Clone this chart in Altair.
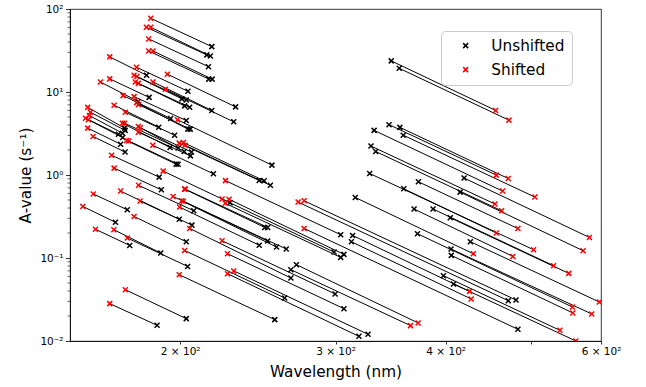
import altair as alt
import pandas as pd

# Unshifted (black) and shifted (red) transitions: wavelength (nm) and A-value (s^-1)
wl_unshifted = [217.2, 214.4, 216.4, 215.3, 215.5, 217.4, 183.2, 204.1, 231.1, 200.9,
                203.2, 184.4, 179.2, 202.3, 205.0, 217.2, 230.0, 195.1, 203.2, 204.1,
                205.3, 189.1, 173.0, 197.1, 173.2, 172.0, 170.2, 172.1, 254.1, 194.8,
                198.9, 202.1, 206.0, 171.2, 205.4, 173.2, 197.9, 198.9, 245.8, 249.0,
                253.1, 218.1, 189.3, 190.4, 227.8, 304.1, 207.2, 199.5, 249.4, 251.3,
                174.2, 251.3, 206.2, 168.9, 298.9, 306.7, 304.1, 257.2, 263.8, 245.8,
                203.2, 175.3, 190.1, 267.0, 203.9, 299.7, 262.7, 306.7, 318.9, 326.6,
                256.0, 203.2, 188.3, 471.0, 480.6, 483.0, 347.0, 354.3, 345.0, 354.9,
                331.8, 358.0, 329.1, 333.2, 328.0, 419.7, 372.5, 358.6, 415.3, 315.9,
                368.3, 387.0, 404.8, 371.6, 426.6, 405.6, 405.9, 313.7, 312.7, 397.6,
                408.3, 270.9, 267.0]
a_unshifted = [35.2, 28.0, 27.2, 20.2, 14.3, 14.3, 15.9, 10.2, 6.62, 8.26,
               8.03, 8.61, 7.70, 6.80, 6.56, 6.00, 4.37, 4.79, 4.53, 3.57,
               3.57, 3.77, 3.67, 3.02, 3.45, 3.19, 3.10, 2.83, 1.315, 2.14,
               2.11, 1.92, 1.89, 2.35, 1.70, 1.89, 1.352, 1.35, 0.859, 0.851,
               0.751, 1.034, 0.943, 0.663, 0.463, 0.1907, 0.371, 0.293, 0.2335, 0.2335,
               0.381, 0.160, 0.249, 0.2696, 0.118, 0.1105, 0.1017, 0.1356, 0.1283, 0.1426,
               0.157, 0.1417, 0.1149, 0.0574, 0.0792, 0.0369, 0.0330, 0.0245, 0.01139, 0.01204,
               0.01809, 0.01860, 0.01545, 0.0306, 0.0312, 0.01382, 23.7, 19.3, 4.04, 3.75,
               3.45, 3.02, 2.23, 1.92, 1.042, 0.918, 0.828, 0.682, 0.622, 0.536,
               0.389, 0.389, 0.3054, 0.196, 0.157, 0.1283, 0.1075, 0.187, 0.157, 0.0612,
               0.0486, 0.0831, 0.0723]
wl_shifted = [185.2, 183.1, 185.2, 184.2, 184.2, 186.3, 166.4, 178.4, 193.4, 177.3,
              178.6, 166.4, 162.4, 177.9, 179.3, 186.3, 192.4, 172.3, 177.3, 178.5,
              179.4, 168.3, 157.1, 173.3, 158.2, 157.8, 156.2, 157.4, 198.6, 172.0,
              173.0, 179.3, 180.2, 157.1, 179.3, 159.3, 173.9, 174.9, 199.5, 201.7,
              202.6, 186.2, 167.2, 168.3, 191.3, 225.1, 179.4, 171.2, 202.3, 202.6,
              159.4, 196.3, 180.1, 155.1, 223.1, 227.2, 225.0, 200.8, 201.6, 199.7,
              177.3, 160.3, 168.2, 205.0, 174.2, 223.1, 202.3, 226.3, 226.3, 230.0,
              199.5, 173.3, 166.4, 272.1, 276.4, 276.4, 455.7, 471.8, 456.5, 471.0,
              464.1, 504.9, 454.9, 462.9, 503.1, 582.1, 483.0, 456.5, 572.6, 429.9,
              476.7, 530.1, 551.6, 556.8, 597.4, 585.6, 557.4, 425.8, 427.5, 538.9,
              561.9, 372.2, 364.9]
a_shifted = [77.3, 60.2, 60.2, 43.6, 31.2, 31.2, 26.5, 19.9, 16.4, 15.9,
             15.4, 14.4, 13.2, 13.2, 12.7, 13.2, 10.8, 9.05, 8.80, 7.45,
             7.05, 6.94, 6.53, 5.71, 5.71, 5.20, 4.84, 4.62, 4.62, 4.21,
             4.21, 3.83, 3.70, 3.67, 3.28, 2.91, 2.60, 2.57, 2.42, 2.46,
             2.28, 2.28, 1.73, 1.21, 1.114, 0.856, 0.751, 0.640, 0.676, 0.676,
             0.591, 0.551, 0.485, 0.418, 0.513, 0.510, 0.456, 0.489, 0.483, 0.411,
             0.3166, 0.222, 0.219, 0.227, 0.174, 0.1615, 0.1234, 0.1126, 0.0647, 0.0699,
             0.0629, 0.0415, 0.0282, 0.472, 0.489, 0.227, 6.00, 4.58, 0.997, 0.907,
             0.640, 0.542, 0.447, 0.371, 0.1258, 0.177, 0.2264, 0.200, 0.1224, 0.1126,
             0.1045, 0.0808, 0.0653, 0.0257, 0.0295, 0.0212, 0.0218, 0.0396, 0.0321, 0.01345,
             0.0100, 0.0165, 0.01532]

series_names = ["Unshifted", "Shifted"]
series_colors = ["#000000", "#ff0000"]

x_tick_values = [200, 300, 400, 500, 600]
x_tick_labels = ["2 × 10²", "3 × 10²", "4 × 10²", "", "6 × 10²"]
y_tick_values = [0.01, 0.1, 1, 10, 100]
y_tick_labels = ["10⁻²", "10⁻¹", "10⁰", "10¹", "10²"]
y_minor_values = [m * 10.0 ** k for k in range(-2, 2) for m in range(2, 10)]


def label_expr(vals, labels):
    e = "''"
    for v, l in reversed(list(zip(vals, labels))):
        e = f"abs(datum.value - {v}) < {v} * 1e-6 ? '{l}' : ({e})"
    return e


pairs = pd.DataFrame({"wl_u": wl_unshifted, "a_u": a_unshifted,
                      "wl_s": wl_shifted, "a_s": a_shifted})
points = pd.concat([
    pd.DataFrame({"wl": wl_unshifted, "a": a_unshifted, "kind": series_names[0]}),
    pd.DataFrame({"wl": wl_shifted, "a": a_shifted, "kind": series_names[1]}),
], ignore_index=True)
minor = pd.DataFrame({"v": y_minor_values})

FONT = "DejaVu Sans"
xscale = alt.Scale(type="log", domain=[150, 600], nice=False)
yscale = alt.Scale(type="log", domain=[0.01, 100], nice=False)

xaxis = alt.Axis(values=x_tick_values, labelExpr=label_expr(x_tick_values, x_tick_labels),
                 title="Wavelength (nm)", grid=False, tickSize=3, tickWidth=0.8,
                 tickColor="black", domainColor="black", domainWidth=0.8,
                 labelFontSize=10.5, labelPadding=2, labelColor="black",
                 titleFontSize=15.3, titleFontWeight="normal", titlePadding=8,
                 titleColor="black", labelFlush=False)
yaxis = alt.Axis(values=y_tick_values, labelExpr=label_expr(y_tick_values, y_tick_labels),
                 title="A-value (s⁻¹)", grid=False, tickSize=4.5, tickWidth=0.8,
                 tickColor="black", domainColor="black", domainWidth=0.8,
                 labelFontSize=10.5, labelPadding=2.5, labelColor="black",
                 titleFontSize=15.3, titleFontWeight="normal", titlePadding=6,
                 titleColor="black", labelFlush=False)

lines = alt.Chart(pairs).mark_rule(color="black", strokeWidth=1, clip=True).encode(
    x=alt.X("wl_u:Q", scale=xscale, axis=xaxis),
    y=alt.Y("a_u:Q", scale=yscale, axis=yaxis),
    x2="wl_s:Q",
    y2="a_s:Q",
)

minor_ticks = alt.Chart(minor).mark_rule(color="black", strokeWidth=0.6).encode(
    y=alt.Y("v:Q", scale=yscale),
    x=alt.value(-2.5),
    x2=alt.value(0),
)

xshape = "M-1,-1L1,1M-1,1L1,-1"
pts = alt.Chart(points).mark_point(shape=xshape, filled=False, size=25, strokeWidth=1.5,
                                   opacity=1, clip=True).encode(
    x=alt.X("wl:Q", scale=xscale),
    y=alt.Y("a:Q", scale=yscale),
    color=alt.Color("kind:N", scale=alt.Scale(domain=series_names, range=series_colors),
                    legend=alt.Legend(title=None, orient="none", legendX=371, legendY=22,
                                      fillColor="white", strokeColor="#cccccc",
                                      cornerRadius=4, padding=7, rowPadding=8,
                                      symbolType=xshape, symbolSize=25,
                                      symbolStrokeWidth=1.5, symbolOffset=10,
                                      labelOffset=18, labelFontSize=15.3,
                                      labelFont=FONT, labelColor="black",
                                      labelLimit=200)),
)

chart = alt.layer(lines, minor_ticks, pts).properties(
    width=531, height=332,
    autosize=alt.AutoSizeParams(type="none"),
    padding={"left": 70, "top": 9, "right": 45, "bottom": 46},
).configure(font=FONT).configure_view(stroke="black", strokeWidth=0.8)

chart.save("out.html", embed_options={"renderer": "svg", "actions": False})
